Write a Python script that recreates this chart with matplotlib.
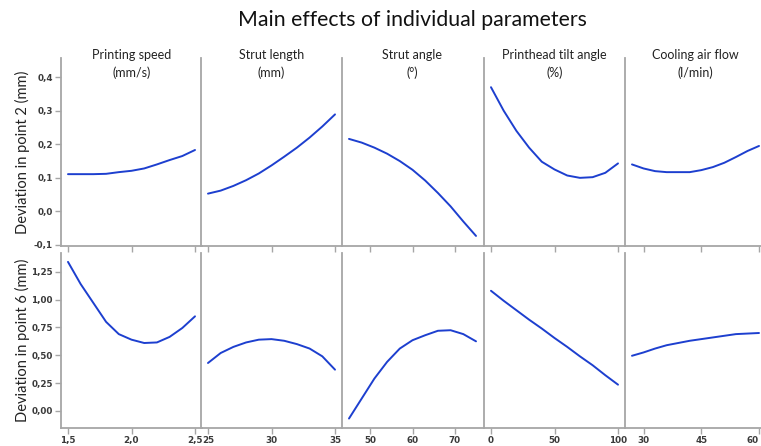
import numpy as np
import matplotlib
matplotlib.use("Agg")
import matplotlib.pyplot as plt

# Factor names and units
factors = ["Printing speed", "Strut length", "Strut angle", "Printhead tilt angle", "Cooling air flow"]
units = ["(mm/s)", "(mm)", "(°)", "(%)", "(l/min)"]

# Factor levels (x) for each main-effect curve
x_speed = [1.5, 1.6, 1.7, 1.8, 1.9, 2.0, 2.1, 2.2, 2.3, 2.4, 2.5]
x_length = [25, 26, 27, 28, 29, 30, 31, 32, 33, 34, 35]
x_angle = [45, 48, 51, 54, 57, 60, 63, 66, 69, 72, 75]
x_tilt = [0, 10, 20, 30, 40, 50, 60, 70, 80, 90, 100]
x_air = [27, 30, 33, 36, 39, 42, 45, 48, 51, 54, 57, 60]

# Deviation in point 2 (mm)
p2_speed = [0.111, 0.111, 0.111, 0.112, 0.117, 0.121, 0.128, 0.140, 0.153, 0.165, 0.183]
p2_length = [0.053, 0.062, 0.076, 0.093, 0.113, 0.137, 0.163, 0.190, 0.220, 0.253, 0.289]
p2_angle = [0.216, 0.205, 0.190, 0.172, 0.150, 0.124, 0.092, 0.055, 0.015, -0.030, -0.073]
p2_tilt = [0.370, 0.300, 0.240, 0.190, 0.148, 0.125, 0.107, 0.100, 0.102, 0.115, 0.143]
p2_air = [0.140, 0.128, 0.120, 0.117, 0.117, 0.117, 0.123, 0.132, 0.145, 0.162, 0.180, 0.195]

# Deviation in point 6 (mm)
p6_speed = [1.34, 1.14, 0.97, 0.80, 0.69, 0.64, 0.61, 0.615, 0.665, 0.745, 0.85]
p6_length = [0.43, 0.52, 0.575, 0.615, 0.64, 0.645, 0.63, 0.60, 0.56, 0.49, 0.37]
p6_angle = [-0.07, 0.11, 0.29, 0.44, 0.56, 0.635, 0.68, 0.72, 0.725, 0.69, 0.625]
p6_tilt = [1.08, 0.99, 0.905, 0.82, 0.74, 0.655, 0.575, 0.49, 0.41, 0.32, 0.235]
p6_air = [0.495, 0.525, 0.56, 0.59, 0.61, 0.63, 0.645, 0.66, 0.675, 0.69, 0.695, 0.70]

# Tick positions and labels (decimal comma)
xticks = [[1.5, 2.0, 2.5], [25, 30, 35], [50, 60, 70], [0, 50, 100], [30, 45, 60]]
xticklabels = [["1,5", "2,0", "2,5"], ["25", "30", "35"], ["50", "60", "70"],
               ["0", "50", "100"], ["30", "45", "60"]]
yticks_p2 = [-0.1, 0.0, 0.1, 0.2, 0.3, 0.4]
yticklabels_p2 = ["-0,1", "0,0", "0,1", "0,2", "0,3", "0,4"]
yticks_p6 = [0.0, 0.25, 0.5, 0.75, 1.0, 1.25]
yticklabels_p6 = ["0,00", "0,25", "0,50", "0,75", "1,00", "1,25"]

xs = [x_speed, x_length, x_angle, x_tilt, x_air]
rows = [[p2_speed, p2_length, p2_angle, p2_tilt, p2_air],
        [p6_speed, p6_length, p6_angle, p6_tilt, p6_air]]
row_labels = ["Deviation in point 2 (mm)", "Deviation in point 6 (mm)"]

W, H = 761, 446
fig = plt.figure(figsize=(W / 100, H / 100), dpi=100)

GRAY = "#a6a6a6"
LINE = "#1d3fcf"
TICKC = "#3a3a3a"
FONT = "Lato"

col_left = [61, 201, 342, 484, 625]
col_w = 141
row_box = [(58, 246), (253, 428)]
ylims = [(-0.103, 0.457), (-0.155, 1.42)]


def box(l, t, w, b):
    return [l / W, 1 - b / H, w / W, (b - t) / H]


for r in range(2):
    t, b = row_box[r]
    for c in range(5):
        ax = fig.add_axes(box(col_left[c], t, col_w, b))
        x = xs[c]
        span = x[-1] - x[0]
        ax.plot(x, rows[r][c], color=LINE, lw=1.4, solid_capstyle="round")
        ax.set_xlim(x[0] - 0.055 * span, x[-1] + 0.055 * span)
        ax.set_ylim(*ylims[r])
        for s in ("top", "right"):
            ax.spines[s].set_visible(False)
        for s in ("left", "bottom"):
            ax.spines[s].set_color(GRAY)
            ax.spines[s].set_linewidth(1.3)
        ax.set_xticks(xticks[c])
        ax.tick_params(axis="x", direction="out", length=4, width=1, color=GRAY,
                       labelsize=6.3, labelcolor=TICKC, pad=2)
        if r == 1:
            labels = ax.set_xticklabels(xticklabels[c], fontweight="bold")
            if c == 4:
                labels[-1].set_horizontalalignment("right")
                labels[-1].set_x(x[-1] + 0.04 * span)
        else:
            ax.set_xticklabels([])
        if c == 0:
            if r == 0:
                ax.set_yticks(yticks_p2)
                ax.set_yticklabels(yticklabels_p2, fontweight="bold")
            else:
                ax.set_yticks(yticks_p6)
                ax.set_yticklabels(yticklabels_p6, fontweight="bold")
            ax.tick_params(axis="y", direction="out", length=4, width=1, color=GRAY,
                           labelsize=6.3, labelcolor=TICKC, pad=2)
        else:
            ax.set_yticks([])
        ax.patch.set_alpha(0)
        if r == 0:
            ax.text(0.5, 1 + (58 - 55) / (b - t), factors[c],
                    transform=ax.transAxes, ha="center", va="center",
                    fontsize=9, family=FONT, color="#222222", clip_on=False)
            ax.text(0.5, 1 - (73 - 58) / (b - t), units[c],
                    transform=ax.transAxes, ha="center", va="center",
                    fontsize=9, family=FONT, color="#222222", clip_on=False)

    fig.text(22 / W, 1 - ((t + b) / 2) / H, row_labels[r], rotation=90,
             ha="center", va="center", fontsize=10.5, family=FONT, color="#222222")

fig.text(412 / W, 1 - 20 / H, "Main effects of individual parameters",
         ha="center", va="center", fontsize=15.3, family=FONT, color="#111111")

fig.savefig("out.png", dpi=100)
